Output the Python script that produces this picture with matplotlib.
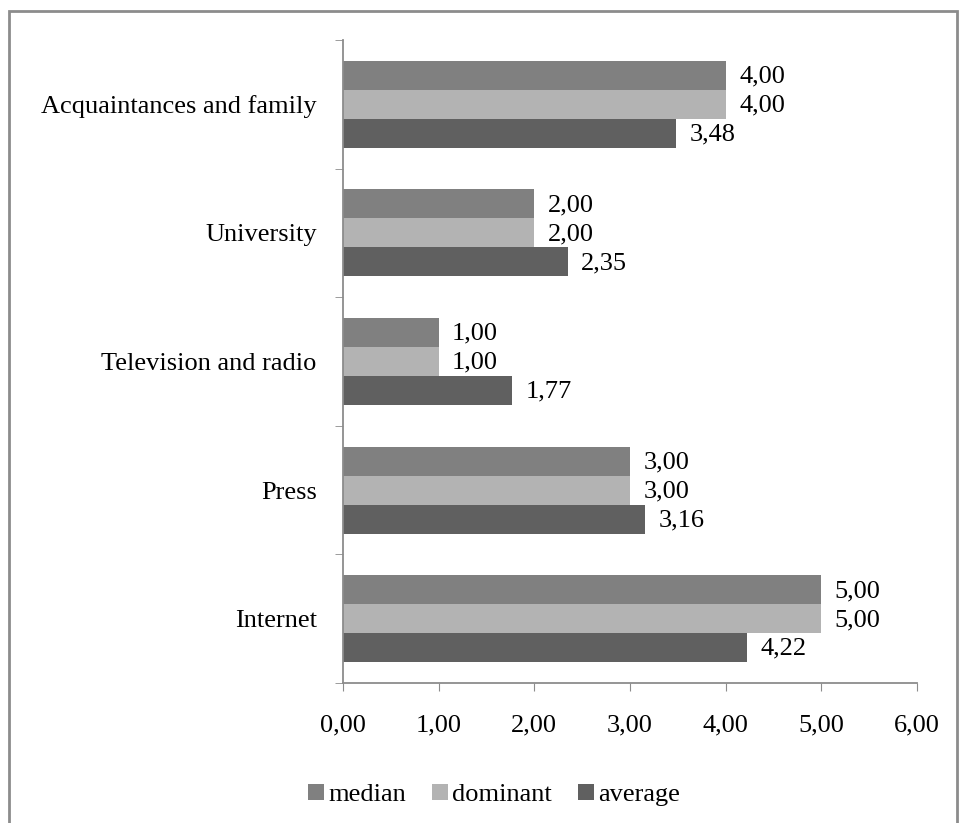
import matplotlib
matplotlib.use("Agg")
import matplotlib.pyplot as plt
import numpy as np
from matplotlib.patches import Rectangle

plt.rcParams['font.family'] = ['Liberation Serif', 'DejaVu Serif']

categories = ["Internet", "Press", "Television and radio", "University",
              "Acquaintances and family"]
median = [5.00, 3.00, 1.00, 2.00, 4.00]
dominant = [5.00, 3.00, 1.00, 2.00, 4.00]
average = [4.22, 3.16, 1.77, 2.35, 3.48]
x_ticks = [0, 1, 2, 3, 4, 5, 6]

series = [("median", median, "#808080"),
          ("dominant", dominant, "#b3b3b3"),
          ("average", average, "#606060")]

fig = plt.figure(figsize=(9.59, 8.23), dpi=100)
ax = fig.add_axes([343 / 959, 1 - 683 / 823, (917 - 343) / 959, (683 - 40) / 823])

fs = 19
h = 0.225
y = np.arange(len(categories))
offsets = [h, 0, -h]
for (name, vals, col), off in zip(series, offsets):
    bars = ax.barh(y + off, vals, height=h, color=col, label=name)
    for b, v in zip(bars, vals):
        ax.text(v + 0.14, b.get_y() + b.get_height() / 2 - 0.01,
                f"{v:.2f}".replace(".", ","),
                va="center", ha="left", fontsize=fs, color="black")

ax.set_xlim(0, 6)
ax.set_ylim(-0.5, len(categories) - 0.5)
ax.set_xticks(x_ticks)
ax.set_xticklabels([f"{t:.2f}".replace(".", ",") for t in x_ticks], fontsize=fs)
ax.set_yticks(y)
ax.set_yticklabels(categories, fontsize=fs)
ax.set_yticks(np.arange(-0.5, len(categories)), minor=True)
ax.tick_params(axis="y", which="major", length=0, pad=19)
ax.tick_params(axis="y", which="minor", length=6, color="#8c8c8c", direction="out")
ax.tick_params(axis="x", length=6, color="#8c8c8c", direction="out", pad=17)
for s in ["top", "right"]:
    ax.spines[s].set_visible(False)
for s in ["left", "bottom"]:
    ax.spines[s].set_color("#8c8c8c")
    ax.spines[s].set_linewidth(1.3)

handles, labels = ax.get_legend_handles_labels()
fig.legend(handles, labels, loc="center", bbox_to_anchor=(494 / 959, 1 - 795 / 823),
           ncol=3, frameon=False, fontsize=fs, handlelength=0.6, handleheight=0.6,
           handletextpad=0.15, columnspacing=1.0)

fig.patches.append(Rectangle((9 / 959, -0.05), (957 - 9) / 959, 1.05 - 11 / 823,
                             transform=fig.transFigure, fill=False,
                             edgecolor="#8c8c8c", linewidth=2))

fig.savefig("out.png", dpi=100)
